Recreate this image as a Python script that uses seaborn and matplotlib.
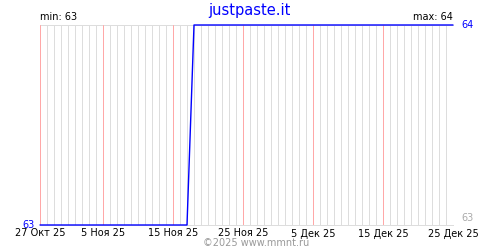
import matplotlib
matplotlib.use("Agg")
import matplotlib.pyplot as plt
import seaborn as sns
import pandas as pd

start_date = "2025-10-27"
end_date = "2025-12-25"
values = [63, 63, 63, 63, 63, 63, 63, 63, 63, 63,
          63, 63, 63, 63, 63, 63, 63, 63, 63, 63,
          63, 63, 64, 64, 64, 64, 64, 64, 64, 64,
          64, 64, 64, 64, 64, 64, 64, 64, 64, 64,
          64, 64, 64, 64, 64, 64, 64, 64, 64, 64,
          64, 64, 64, 64, 64, 64, 64, 64, 64, 64]
tick_labels = ["27 Окт 25", "5 Ноя 25", "15 Ноя 25", "25 Ноя 25",
               "5 Дек 25", "15 Дек 25", "25 Дек 25"]
tick_dates = ["2025-10-27", "2025-11-05", "2025-11-15", "2025-11-25",
              "2025-12-05", "2025-12-15", "2025-12-25"]
title = "justpaste.it"
y_min, y_max = 63, 64

df = pd.DataFrame({"date": pd.date_range(start_date, end_date, freq="D"),
                   "value": values})

sns.set_style("white")
plt.rcParams['font.family'] = ['DejaVu Sans']

fig = plt.figure(figsize=(5, 2.5), dpi=100)
ax = fig.add_axes([40/500, 25/250, 413/500, 200/250])

px = 0.72  # one pixel in points

sns.lineplot(data=df, x="date", y="value", ax=ax, color="#0000ff",
             linewidth=1.0, zorder=5, clip_on=False)

major = pd.to_datetime(tick_dates)
days = pd.date_range(start_date, end_date, freq="D")

ax.set_xlim(pd.Timestamp(start_date), pd.Timestamp(end_date))
ax.set_ylim(y_min, y_max)

ax.grid(False)
for d in days:
    if d in major:
        ax.axvline(d, color="#ffa8a8", linewidth=px, zorder=2, snap=True)
    else:
        ax.axvline(d, color="#dddddd", linewidth=px, zorder=1, snap=True)

ax.set_xticks(major)
ax.set_xticklabels(tick_labels)
ax.set_yticks([])
ax.set_xlabel("")
ax.set_ylabel("")
ax.tick_params(axis="x", which="both", length=0, labelsize=7, pad=2.5,
               labelcolor="black")

for s in ["left", "right"]:
    ax.spines[s].set_visible(False)
for s in ["top", "bottom"]:
    ax.spines[s].set_color("#dddddd")
    ax.spines[s].set_linewidth(px)
    ax.spines[s].set_zorder(1)

ax.text(-0.012, 0, str(y_min), transform=ax.transAxes, ha="right", va="center",
        color="#0000ff", fontsize=7)
ax.text(1.02, 1, str(y_max), transform=ax.transAxes, ha="left", va="center",
        color="#0000ff", fontsize=7)
ax.text(1.02, 0.01, str(y_min), transform=ax.transAxes, ha="left", va="bottom",
        color="#aaaaaa", fontsize=7)
ax.text(0, 1.015, f"min: {y_min}", transform=ax.transAxes, ha="left", va="bottom",
        color="black", fontsize=7)
ax.text(1, 1.015, f"max: {y_max}", transform=ax.transAxes, ha="right", va="bottom",
        color="black", fontsize=7)

fig.text(249/500, 1 - 10/250, title, ha="center", va="center", color="#0000ff",
         fontsize=10.5)
fig.text(256/500, 1 - 243/250, "©2025 www.mmnt.ru", ha="center", va="center",
         color="#999999", fontsize=7)

fig.savefig("out.png", dpi=100)
